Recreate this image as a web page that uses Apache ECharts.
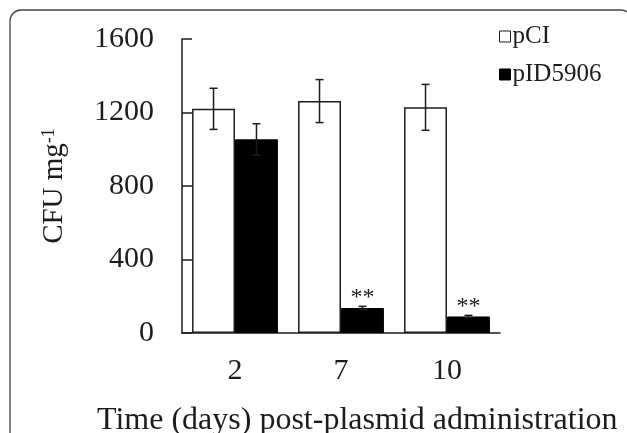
<!DOCTYPE html>
<html><head><meta charset="utf-8">
<script src="https://cdn.jsdelivr.net/npm/echarts@6/dist/echarts.min.js"></script>
<style>html,body{margin:0;padding:0;background:#fff}#c{width:627px;height:433px}</style>
</head><body><div id="c"></div>
<script>
const categories = ['2', '7', '10'];
const pCI = [1220, 1262, 1228];
const pCIErr = [112, 117, 125];
const pID5906 = [1054, 136, 90];
const pID5906Err = [85, 9, 6];
const significance = ['', '**', '**'];
const yTicks = [0, 400, 800, 1200, 1600];

const FONT = '"Liberation Serif", "DejaVu Serif", serif';
const INK = '#1c1c1c';
const catGap = 0.19;

function errSeries(name, vals, errs, side) {
  return {
    type: 'custom', name: name + ' err', silent: true, z: 5,
    data: vals.map((v, i) => [i, v, errs[i]]),
    renderItem: function (params, api) {
      const i = api.value(0), v = api.value(1), e = api.value(2);
      const band = api.size([1, 0])[0];
      const bw = band * (1 - catGap) / 2;
      const c = api.coord([i, v]);
      const x = c[0] + side * bw / 2;
      const yt = api.coord([i, v + e])[1];
      const yb = api.coord([i, v - e])[1];
      const cap = 4;
      const st = { stroke: INK, lineWidth: 1.5 };
      return { type: 'group', children: [
        { type: 'line', shape: { x1: x, y1: yt, x2: x, y2: yb }, style: st },
        { type: 'line', shape: { x1: x - cap, y1: yt, x2: x + cap, y2: yt }, style: st },
        { type: 'line', shape: { x1: x - cap, y1: yb, x2: x + cap, y2: yb }, style: st }
      ]};
    }
  };
}

const chart = echarts.init(document.getElementById('c'));
chart.setOption({
  backgroundColor: '#fff',
  animation: false,
  graphic: [{ type: 'rect', shape: { x: 10, y: 10, width: 622, height: 500, r: 11 },
    style: { fill: 'none', stroke: '#444', lineWidth: 1.3 }, z: -1 }],
  title: {
    text: 'Time (days) post-plasmid administration',
    left: 97, top: 405, padding: 0,
    textStyle: { fontFamily: FONT, fontSize: 32, fontWeight: 'normal', color: INK }
  },
  legend: {
    orient: 'vertical', left: 499, top: 24, itemGap: 13, padding: 0,
    itemWidth: 11, itemHeight: 11, icon: 'rect',
    textStyle: { fontFamily: FONT, fontSize: 25, color: INK, padding: [0, 0, 0, -3] },
    data: [
      { name: 'pCI', itemStyle: { color: '#fff', borderColor: INK, borderWidth: 1 } },
      { name: 'pID5906', itemStyle: { color: '#000', borderColor: '#000', borderWidth: 1 } }
    ]
  },
  grid: { left: 182, top: 39, right: 127, bottom: 100 },
  xAxis: {
    type: 'category', data: categories,
    axisLine: { lineStyle: { color: INK, width: 1.5 } },
    axisTick: { inside: true, length: 10, lineStyle: { color: INK, width: 1.5 } },
    axisLabel: { fontFamily: FONT, fontSize: 30, color: INK, margin: 23 }
  },
  yAxis: {
    type: 'value', min: yTicks[0], max: yTicks[yTicks.length - 1], interval: 400,
    name: '{b|CFU mg}{s|-1}', nameLocation: 'middle', nameGap: 113, nameRotate: 90,
    nameTextStyle: { rich: {
      b: { fontFamily: FONT, fontSize: 29, color: INK },
      s: { fontFamily: FONT, fontSize: 18, color: INK, verticalAlign: 'top' }
    } },
    axisLine: { show: true, lineStyle: { color: INK, width: 1.5 } },
    axisTick: { show: true, inside: true, length: 10, lineStyle: { color: INK, width: 1.5 } },
    splitLine: { show: false },
    axisLabel: { fontFamily: FONT, fontSize: 30, color: INK, margin: 28,
      formatter: function (v) { return String(v); } }
  },
  series: [
    { name: 'pCI', type: 'bar', data: pCI, barGap: '0%', barCategoryGap: (catGap * 100) + '%',
      itemStyle: { color: '#fff', borderColor: INK, borderWidth: 1.5 } },
    { name: 'pID5906', type: 'bar', data: pID5906.map((v, i) => ({ value: v,
        label: { show: significance[i] !== '', formatter: significance[i] } })),
      itemStyle: { color: '#000', borderColor: '#000', borderWidth: 1 },
      label: { position: 'top', distance: -2, fontFamily: FONT, fontSize: 24, color: INK } },
    errSeries('pCI', pCI, pCIErr, -1),
    errSeries('pID5906', pID5906, pID5906Err, 1)
  ]
});
</script></body></html>
